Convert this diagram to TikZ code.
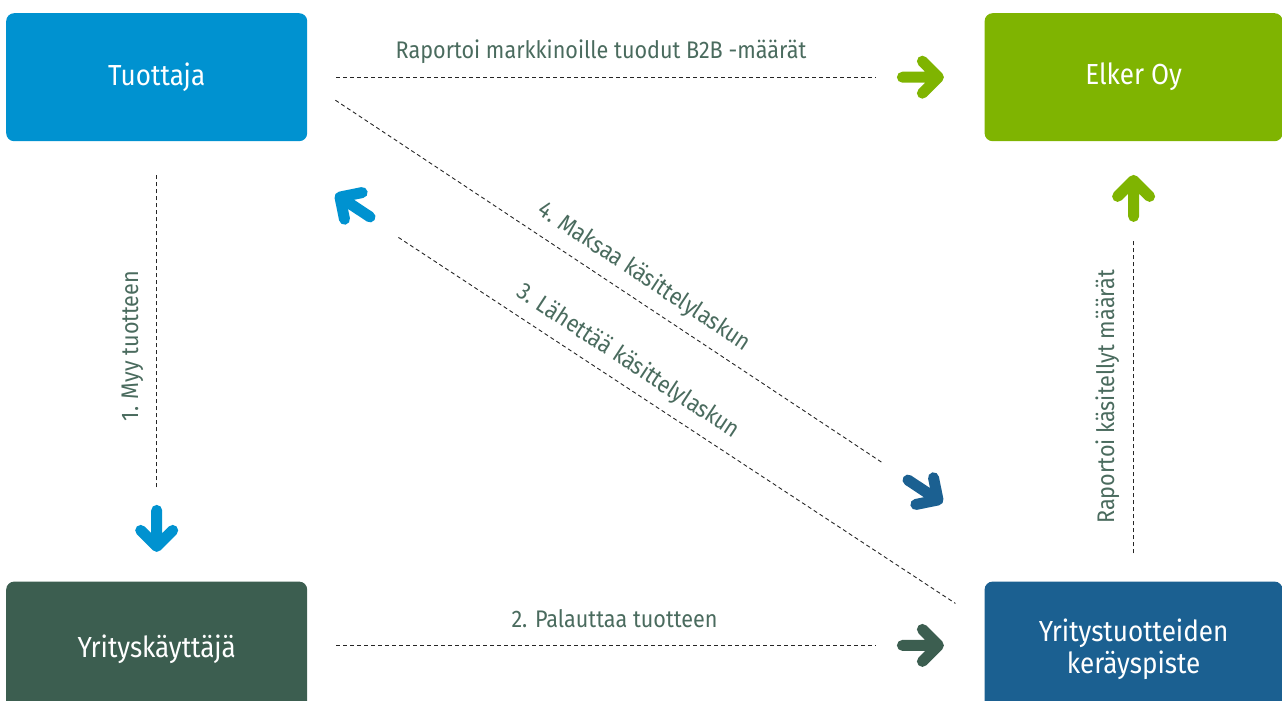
\documentclass[tikz,border=0pt]{standalone}
\usepackage{fontspec}
\setmainfont{Fira Sans}[FakeStretch=0.9]
\usetikzlibrary{positioning}
\definecolor{tuotblue}{HTML}{0092D0}
\definecolor{elkergreen}{HTML}{7FB401}
\definecolor{yritgreen}{HTML}{3C5E50}
\definecolor{keraysblue}{HTML}{1B6091}
\definecolor{lblgreen}{HTML}{4A6B5E}
\tikzset{
	box/.style={
		rectangle,
		align=center,
		rounded corners=8pt,
		minimum width=301pt,
		minimum height=128pt,
		text=white,
		font=\fontsize{29}{32}\selectfont
	},
	dline/.style={dash pattern=on 4pt off 3pt, line width=0.9pt, black!85},
	lbl/.style={text=lblgreen, inner sep=3pt, font=\fontsize{24}{28}\selectfont},
	chev/.pic={
		\draw[pic actions, line width=11pt, line cap=round, line join=round]
			(-18,0) -- (18,0) (2,-16) -- (18,0) -- (2,16);
	}
}

\begin{document}
\begin{tikzpicture}[x=1pt, y=-1pt]
	\useasboundingbox (0,0) rectangle (1282,701);
	\clip (0,0) rectangle (1282,701);

	\draw node[box, fill=tuotblue, anchor=north west](Tuottaja) at (6,13) {Tuottaja};
	\draw node[box, fill=elkergreen, minimum width=298pt, right=677pt of Tuottaja](Elker){Elker Oy};
	\draw node[box, fill=yritgreen, minimum height=136pt, below=440pt of Tuottaja.south, anchor=north](Yritys){Yrityskäyttäjä};
	\draw node[box, fill=keraysblue, minimum width=298pt, minimum height=136pt, below=440pt of Elker.south, anchor=north](Kerays){Yritystuotteiden\\ keräyspiste};

	% ends of the dashed lines
	\coordinate[right=29pt of Tuottaja.east] (rap1);
	\coordinate[left=108pt of Elker.west] (rap2);
	\coordinate[below=32pt of Tuottaja.south] (myy1);
	\coordinate[above=94pt of Yritys.north] (myy2);
	\coordinate[below right=64pt and 29pt of Yritys.north east] (pal1);
	\coordinate[below left=64pt and 108pt of Kerays.north west] (pal2);
	\coordinate[below=99pt of Elker.south] (kas1);
	\coordinate[above=28pt of Kerays.north] (kas2);
	\coordinate[below right=23pt and 28pt of Tuottaja.east] (mak1);
	\coordinate[above left=118pt and 101pt of Kerays.north west] (mak2);
	\coordinate[below right=96pt and 91pt of Tuottaja.south east] (lah1);
	\coordinate[below left=22pt and 29pt of Kerays.north west] (lah2);

	\draw [dline] (rap1) -- node[lbl, pos=0.49, above=10pt]{Raportoi markkinoille tuodut B2B -määrät} (rap2);
	\draw [dline] (pal1) -- node[lbl, pos=0.515, above=14pt]{2. Palauttaa tuotteen} (pal2);
	\draw [dline] (myy2) -- node[lbl, pos=0.45, sloped, above=10pt]{1. Myy tuotteen} (myy1);
	\draw [dline] (kas2) -- node[lbl, pos=0.5, sloped, above=11pt]{Raportoi käsitellyt määrät} (kas1);
	\draw [dline] (mak1) -- node[lbl, pos=0.54, sloped, above=8pt]{4. Maksaa käsittelylaskun} (mak2);
	\draw [dline] (lah1) -- node[lbl, pos=0.39, sloped, above=7pt]{3. Lähettää käsittelylaskun} (lah2);

	% arrow heads
	\pic[draw=elkergreen] at ([xshift=-64pt]Elker.west) {chev};
	\pic[draw=yritgreen] at ([xshift=-64pt]pal2 -| Kerays.west) {chev};
	\pic[draw=tuotblue, rotate=-90] at ([yshift=53pt]Yritys.north) {chev};
	\pic[draw=elkergreen, rotate=90] at ([yshift=-57pt]Elker.south) {chev};
	\pic[draw=tuotblue, rotate=146.5] at (355,207) {chev};
	\pic[draw=keraysblue, rotate=-33.5] at (923,490) {chev};
\end{tikzpicture}
\end{document}
